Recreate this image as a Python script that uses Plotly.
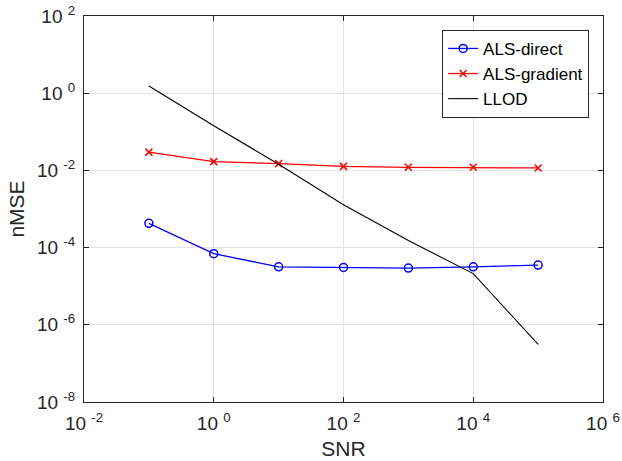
import plotly.graph_objects as go

snr = [0.1, 1, 10, 100, 1e3, 1e4, 1e5]
als_direct = [4.26e-4, 6.96e-5, 3.18e-5, 3.05e-5, 2.94e-5, 3.18e-5, 3.52e-5]
als_gradient = [0.0298, 0.0169, 0.0150, 0.0127, 0.0120, 0.0120, 0.0116]
llod = [1.53, 0.144, 0.0145, 1.29e-3, 1.52e-4, 2.12e-5, 3.1e-7]

x_tickvals = [1e-2, 1, 1e2, 1e4, 1e6]
x_ticktext = ["10 <sup>-2</sup>", "10 <sup>0</sup>", "10 <sup>2</sup>", "10 <sup>4</sup>", "10 <sup>6</sup>"]
y_tickvals = [1e-8, 1e-6, 1e-4, 1e-2, 1, 1e2]
y_ticktext = ["10 <sup>-8</sup>", "10 <sup>-6</sup>", "10 <sup>-4</sup>", "10 <sup>-2</sup>", "10 <sup>0</sup>", "10 <sup>2</sup>"]

FONT = "Liberation Sans, Arial, sans-serif"

fig = go.Figure()
fig.add_trace(go.Scatter(x=snr, y=als_direct, name="ALS-direct", mode="lines+markers",
                         line=dict(color="#0000ff", width=1.3),
                         marker=dict(symbol="circle-open", size=8, color="#0000ff", line=dict(width=1.5))))
fig.add_trace(go.Scatter(x=snr, y=als_gradient, name="ALS-gradient", mode="lines+markers",
                         line=dict(color="#ff0000", width=1.3),
                         marker=dict(symbol="x-thin-open", size=7, color="#ff0000", line=dict(width=1.5, color="#ff0000"))))
fig.add_trace(go.Scatter(x=snr, y=llod, name="LLOD", mode="lines",
                         line=dict(color="#000000", width=1.1)))

axis_common = dict(
    type="log", showgrid=True, gridcolor="#e3e3e3", gridwidth=1,
    showline=True, linecolor="#262626", linewidth=1, mirror="ticks",
    ticks="inside", ticklen=5, tickcolor="#262626",
    tickfont=dict(family=FONT, size=19, color="#262626"),
    zeroline=False, automargin=False, ticklabeloverflow="allow",
)
fig.update_xaxes(axis_common, range=[-2, 6], tickvals=x_tickvals, ticktext=x_ticktext,
                 ticklabelstandoff=4,
                 title=dict(text="SNR", font=dict(family=FONT, size=21, color="#262626"), standoff=8))
fig.update_yaxes(axis_common, range=[-8, 2], tickvals=y_tickvals, ticktext=y_ticktext,
                 ticklabelstandoff=4,
                 title=dict(text="nMSE", font=dict(family=FONT, size=21, color="#262626"), standoff=6))

fig.update_layout(
    width=622, height=461,
    margin=dict(l=84, r=19, t=16, b=59),
    paper_bgcolor="white", plot_bgcolor="white",
    showlegend=True,
    legend=dict(x=0.69, y=0.964, xanchor="left", yanchor="top",
                bgcolor="white", bordercolor="#262626", borderwidth=1,
                font=dict(family=FONT, size=17, color="#000000"),
                itemwidth=30, tracegroupgap=0),
)

# remove the default 8px page margin so the figure fills the window exactly
fig.write_html("out.html", config={"displayModeBar": False},
               post_script="document.body.style.margin='0';")
